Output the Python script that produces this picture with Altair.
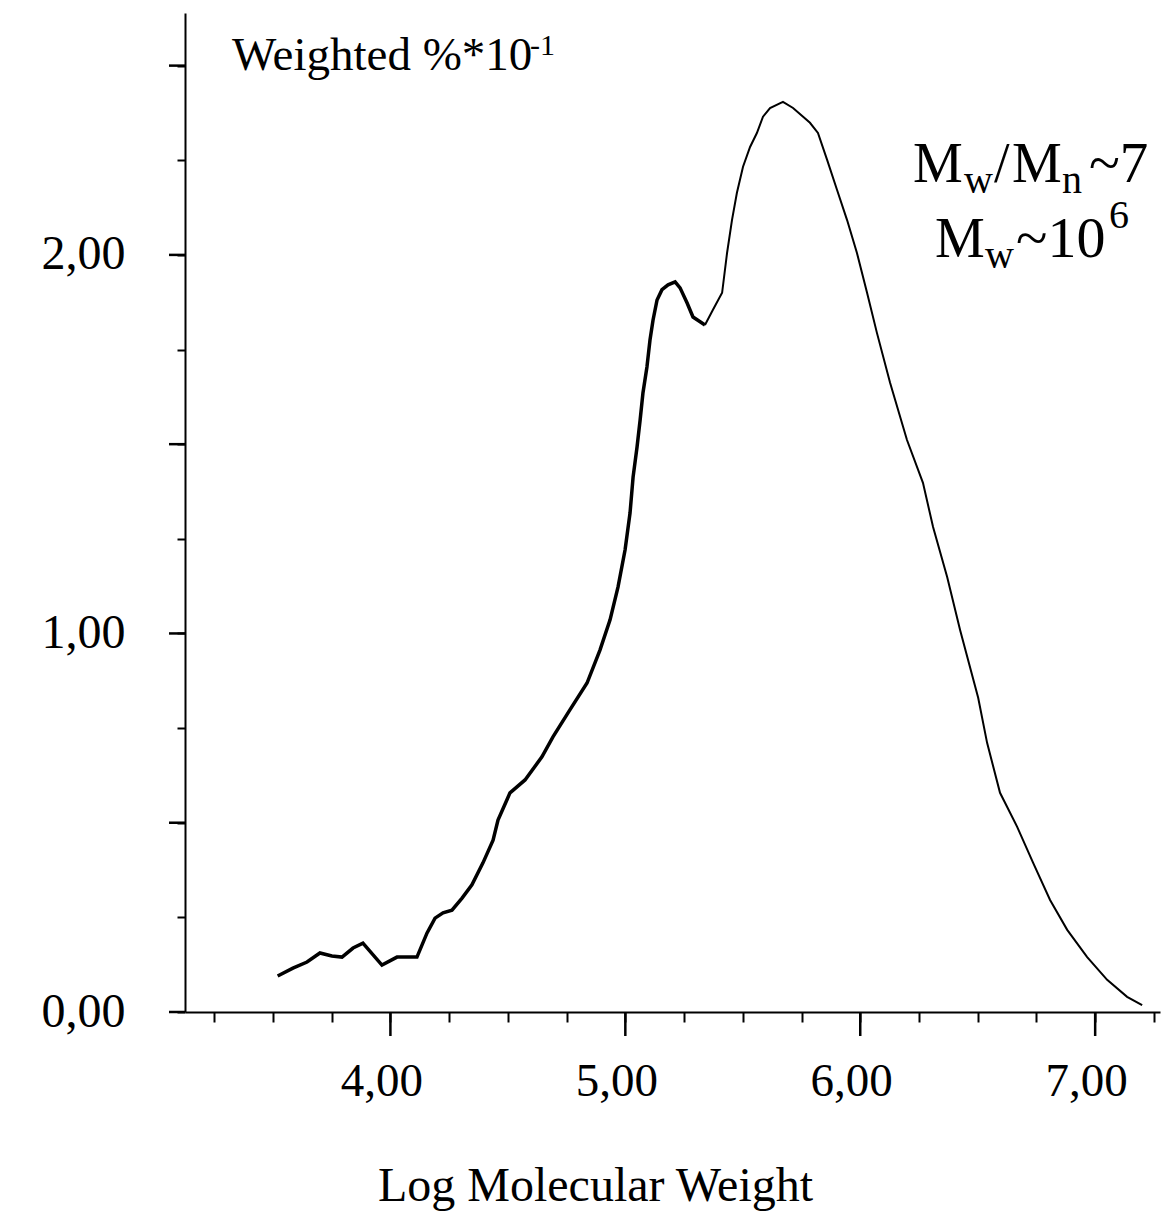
import altair as alt
import pandas as pd

# Curve (log molecular weight, weighted % * 10^-1)
log_mw = [3.52, 3.585, 3.645, 3.70, 3.751, 3.794, 3.841, 3.883, 3.964, 4.028,
          4.113, 4.156, 4.19, 4.224, 4.262, 4.305, 4.347, 4.394, 4.437, 4.458,
          4.509, 4.573, 4.645, 4.692, 4.764, 4.837, 4.892, 4.935, 4.969, 4.999,
          5.02, 5.033, 5.05, 5.063, 5.075, 5.092, 5.105, 5.118, 5.135, 5.156,
          5.182, 5.212, 5.233, 5.263, 5.288, 5.339, 5.373, 5.412, 5.433, 5.454,
          5.475, 5.501, 5.531, 5.560, 5.586, 5.616, 5.671, 5.714, 5.786, 5.820,
          5.859, 5.901, 5.944, 5.986, 6.029, 6.071, 6.127, 6.199, 6.267, 6.31,
          6.37, 6.425, 6.502, 6.54, 6.595, 6.668, 6.736, 6.808, 6.881, 6.966,
          7.051, 7.136, 7.2]
weighted = [0.095, 0.116, 0.132, 0.156, 0.148, 0.145, 0.169, 0.182, 0.124, 0.145,
            0.145, 0.209, 0.248, 0.262, 0.269, 0.301, 0.336, 0.394, 0.454, 0.507,
            0.579, 0.613, 0.674, 0.727, 0.798, 0.869, 0.956, 1.036, 1.123, 1.221,
            1.318, 1.413, 1.493, 1.564, 1.635, 1.704, 1.775, 1.828, 1.881, 1.908,
            1.921, 1.929, 1.913, 1.873, 1.836, 1.815, 1.855, 1.90, 2.005, 2.092,
            2.164, 2.233, 2.285, 2.322, 2.365, 2.388, 2.404, 2.388, 2.349, 2.322,
            2.251, 2.172, 2.092, 2.005, 1.90, 1.794, 1.662, 1.511, 1.398, 1.281,
            1.149, 1.009, 0.83, 0.711, 0.579, 0.489, 0.394, 0.296, 0.217, 0.145,
            0.085, 0.04, 0.018]

x_ticks = [3.25, 3.5, 3.75, 4.0, 4.25, 4.5, 4.75, 5.0, 5.25, 5.5, 5.75, 6.0,
           6.25, 6.5, 6.75, 7.0, 7.25]
x_major = [4.0, 5.0, 6.0, 7.0]
y_ticks = [0.0, 0.25, 0.5, 0.75, 1.0, 1.25, 1.5, 1.75, 2.0, 2.25, 2.5]
y_major = [0.0, 0.5, 1.0, 1.5, 2.0, 2.5]

df = pd.DataFrame({"x": log_mw, "y": weighted})

FONT = "Liberation Serif"
W, H = 975, 999
X_MIN, X_MAX = 3.1256, 7.276
Y_MAX = 2.639

label_expr = "datum.value % 1 === 0 ? replace(format(datum.value, '.2f'), '.', ',') : ''"

x_scale = alt.Scale(domain=[X_MIN, X_MAX], nice=False, zero=False)
y_scale = alt.Scale(domain=[0, Y_MAX], nice=False)

x_enc = alt.X(
    "x:Q",
    scale=x_scale,
    axis=alt.Axis(
        values=x_ticks,
        labelExpr=label_expr,
        title="Log Molecular Weight",
        titleFont=FONT, titleFontSize=48, titleFontWeight="normal",
        titleColor="black", titleX=410, titleY=188,
        titleAnchor="start", titleAlign="center", titleBaseline="alphabetic",
        labelFont=FONT, labelFontSize=47, labelColor="black",
        labelPadding=36, labelOffset=-9, labelFlush=False, labelOverlap=False,
        tickColor="black", tickWidth=2, tickSize=10,
        domainColor="black", domainWidth=2, grid=False,
    ),
)
y_enc = alt.Y(
    "y:Q",
    scale=y_scale,
    axis=alt.Axis(
        values=y_ticks,
        labelExpr=label_expr,
        title=None,
        labelFont=FONT, labelFontSize=48, labelColor="black",
        labelPadding=52, labelOverlap=False, labelFlush=False,
        labelBaseline="middle",
        tickColor="black", tickWidth=2, tickSize=8,
        domainColor="black", domainWidth=2, grid=False,
    ),
)

base = alt.Chart(df)
left_part = base.transform_filter("datum.x <= 5.339").mark_line(
    color="black", strokeWidth=3.5).encode(x=x_enc, y=y_enc)
right_part = base.transform_filter("datum.x >= 5.339").mark_line(
    color="black", strokeWidth=2).encode(x="x:Q", y="y:Q")

# longer ticks at the major positions, as tick marks through the same scales
x_long = alt.Chart(pd.DataFrame({"v": x_major})).mark_tick(
    color="black", thickness=2.5, size=24, orient="vertical", opacity=1).encode(
    x=alt.X("v:Q", scale=x_scale),
    y=alt.value(H + 12))
y_long = alt.Chart(pd.DataFrame({"v": y_major})).mark_tick(
    color="black", thickness=2.5, size=16, orient="horizontal", opacity=1).encode(
    y=alt.Y("v:Q", scale=y_scale),
    x=alt.value(-8))


def txt(s, px, py, size):
    return alt.Chart(pd.DataFrame({"t": [s]})).mark_text(
        font=FONT, fontSize=size, color="black", align="left", baseline="alphabetic"
    ).encode(text="t:N", x=alt.value(px - 185), y=alt.value(py - 13))


texts = [
    txt("Weighted %*10", 232, 70, 47),
    txt("-1", 530, 55, 30),
    txt("M", 913, 182, 56),
    txt("w", 964, 193, 40),
    txt("/", 994, 182, 56),
    txt("M", 1012, 182, 56),
    txt("n", 1062, 193, 40),
    txt("~7", 1089, 182, 57),
    txt("M", 935, 257, 56),
    txt("w", 985, 268, 40),
    txt("~10", 1016, 257, 58),
    txt("6", 1109, 228, 40),
]

chart = alt.layer(left_part, right_part, x_long, y_long, *texts).properties(
    width=W, height=H,
    padding={"left": 185, "top": 13, "right": 8, "bottom": 200},
    autosize="none",
    background="white",
).configure_view(stroke=None)

chart.save("out.html", embed_options={"renderer": "svg", "actions": False})
